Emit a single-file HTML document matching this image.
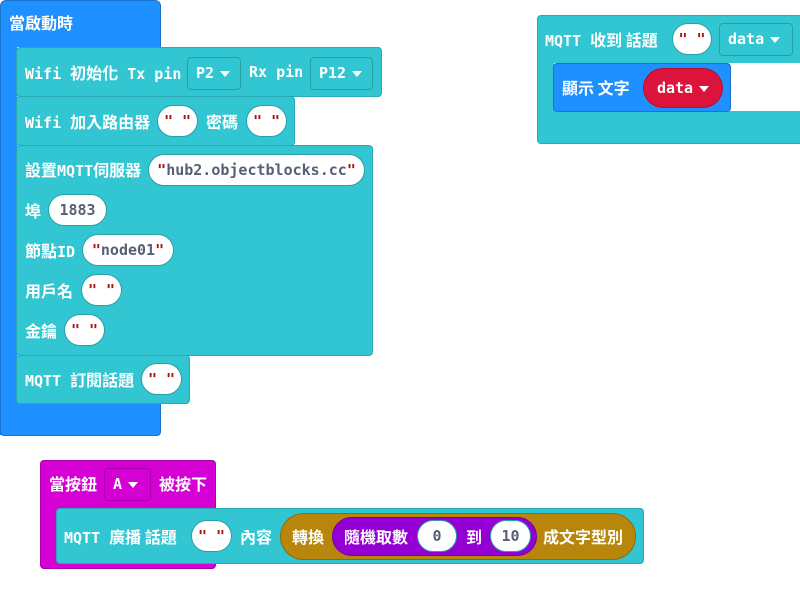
<!DOCTYPE html>
<html><head><meta charset="utf-8"><style>
body{margin:0;width:800px;height:597px;background:#fff;position:relative;overflow:hidden;font-family:"DejaVu Sans Mono","Liberation Mono","Noto Sans CJK TC",monospace;font-weight:bold;font-size:15px;color:#fff}
.b{position:absolute;box-sizing:border-box;border-radius:4px}
.t{position:absolute;white-space:nowrap;line-height:20px;height:20px}
.p{position:absolute;box-sizing:border-box;background:#fff;border:1px solid #2a9fa8;border-radius:16px;color:#575e75;text-align:center;white-space:nowrap;font-weight:bold}
.q{color:#a31515}
.d{position:absolute;box-sizing:border-box;border:1px solid rgba(0,0,0,.2);border-radius:4px;white-space:nowrap;padding-left:8px}
.tri{display:inline-block;width:0;height:0;border-left:5px solid transparent;border-right:5px solid transparent;border-top:6px solid #fff;margin-left:6px;vertical-align:middle}
.teal{background:#32c6d2;border:1px solid #28a8b3}
.cjk{font-family:"Noto Sans CJK TC","DejaVu Sans",sans-serif;font-weight:bold;font-size:16px}
</style></head><body>
<!-- blue hat -->
<div class="b" style="left:0;top:0;width:161px;height:47px;background:#1e90ff;border:1px solid #1873cc;border-bottom:none;border-radius:6px 6px 0 0"></div>
<div class="b" style="left:0;top:40px;width:17px;height:395px;background:#1e90ff;border-left:1px solid #1873cc;border-radius:0"></div>
<div class="b" style="left:0;top:400px;width:161px;height:36px;background:#1e90ff;border:1px solid #1873cc;border-top:none;border-radius:0 0 4px 4px"></div>
<div class="t cjk" style="left:9px;top:12px">當啟動時</div>

<div class="b teal" style="left:16px;top:47px;width:366px;height:50px"></div>
<div class="t" style="left:25px;top:62px">Wifi <span class="cjk">初始化</span> Tx pin</div>
<div class="d" style="left:187px;top:57px;width:54px;height:33px;line-height:31px">P2<span class="tri"></span></div>
<div class="t" style="left:249px;top:62px">Rx pin</div>
<div class="d" style="left:310px;top:57px;width:63px;height:33px;line-height:31px">P12<span class="tri"></span></div>

<div class="b teal" style="left:16px;top:96px;width:279px;height:50px"></div>
<div class="t" style="left:25px;top:111px">Wifi <span class="cjk">加入路由器</span></div>
<div class="p" style="left:157px;top:105px;width:41px;height:32px;line-height:30px"><span class="q">" "</span></div>
<div class="t cjk" style="left:206px;top:111px">密碼</div>
<div class="p" style="left:246px;top:105px;width:41px;height:32px;line-height:30px"><span class="q">" "</span></div>

<div class="b teal" style="left:16px;top:145px;width:357px;height:211px"></div>
<div class="t" style="left:25px;top:159px"><span class="cjk">設置</span>MQTT<span class="cjk">伺服器</span></div>
<div class="p" style="left:148px;top:154px;width:217px;height:32px;line-height:30px;font-size:15px"><span class="q">"</span>hub2.objectblocks.cc<span class="q">"</span></div>
<div class="t cjk" style="left:25px;top:200px">埠</div>
<div class="p" style="left:48px;top:194px;width:59px;height:32px;line-height:30px">1883</div>
<div class="t" style="left:25px;top:240px"><span class="cjk">節點</span>ID</div>
<div class="p" style="left:82px;top:234px;width:92px;height:32px;line-height:30px"><span class="q">"</span>node01<span class="q">"</span></div>
<div class="t cjk" style="left:25px;top:280px">用戶名</div>
<div class="p" style="left:81px;top:274px;width:41px;height:32px;line-height:30px"><span class="q">" "</span></div>
<div class="t cjk" style="left:25px;top:320px">金鑰</div>
<div class="p" style="left:64px;top:314px;width:41px;height:32px;line-height:30px"><span class="q">" "</span></div>

<div class="b teal" style="left:16px;top:355px;width:174px;height:49px"></div>
<div class="t" style="left:25px;top:369px">MQTT <span class="cjk">訂閱話題</span></div>
<div class="p" style="left:141px;top:363px;width:41px;height:32px;line-height:30px"><span class="q">" "</span></div>

<!-- right hat -->
<div class="b teal" style="left:537px;top:15px;width:266px;height:48px;border-bottom:none;border-radius:4px 4px 0 0"></div>
<div class="b" style="left:537px;top:60px;width:17px;height:55px;background:#32c6d2;border-left:1px solid #28a8b3;border-radius:0"></div>
<div class="b teal" style="left:537px;top:111px;width:266px;height:33px;border-top:none;border-radius:0 0 4px 4px"></div>
<div class="t" style="left:545px;top:29px">MQTT <span class="cjk">收到 話題</span></div>
<div class="p" style="left:672px;top:23px;width:40px;height:32px;line-height:30px"><span class="q">" "</span></div>
<div class="d" style="left:719px;top:23px;width:74px;height:33px;line-height:31px;font-size:15px">data<span class="tri"></span></div>
<div class="b" style="left:553px;top:63px;width:178px;height:49px;background:#1e90ff;border:1px solid #1873cc"></div>
<div class="t cjk" style="left:562px;top:77px">顯示 文字</div>
<div class="p" style="left:643px;top:68px;width:80px;height:40px;line-height:38px;background:#dc143c;border-color:#b01030;color:#fff;border-radius:20px;font-weight:bold">data<span class="tri"></span></div>

<!-- magenta -->
<div class="b" style="left:40px;top:460px;width:176px;height:109px;background:#d400d4;border:1px solid #a800a8"></div>
<div class="t cjk" style="left:49px;top:473px">當按鈕</div>
<div class="d" style="left:104px;top:468px;width:47px;height:33px;line-height:31px">A<span class="tri"></span></div>
<div class="t cjk" style="left:159px;top:473px">被按下</div>
<div class="b teal" style="left:56px;top:508px;width:588px;height:56px"></div>
<div class="t" style="left:64px;top:526px">MQTT <span class="cjk">廣播 話題</span></div>
<div class="p" style="left:191px;top:520px;width:41px;height:32px;line-height:30px"><span class="q">" "</span></div>
<div class="t cjk" style="left:240px;top:526px">內容</div>
<div class="b" style="left:280px;top:513px;width:356px;height:47px;background:#b8860b;border:1px solid #93680a;border-radius:24px"></div>
<div class="t cjk" style="left:292px;top:526px">轉換</div>
<div class="b" style="left:332px;top:517px;width:205px;height:39px;background:#9400d3;border:1px solid #7500a8;border-radius:20px"></div>
<div class="t cjk" style="left:344px;top:526px">隨機取數</div>
<div class="p" style="left:417px;top:520px;width:40px;height:32px;line-height:30px">0</div>
<div class="t cjk" style="left:466px;top:526px">到</div>
<div class="p" style="left:490px;top:520px;width:41px;height:32px;line-height:30px">10</div>
<div class="t cjk" style="left:543px;top:526px">成文字型別</div>
</body></html>
